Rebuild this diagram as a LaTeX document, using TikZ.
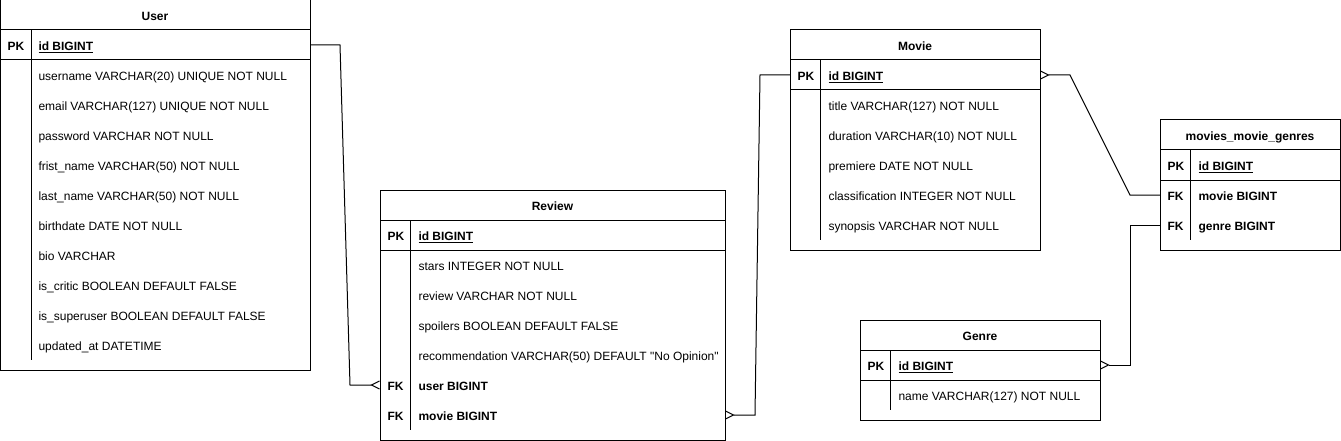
\documentclass[tikz,border=0pt]{standalone}
\usepackage{fontspec}
\setmainfont{Liberation Sans}
\usetikzlibrary{arrows.meta,positioning}

\newcommand{\erfont}{\fontsize{12}{14}\selectfont}

\tikzset{
  table/.style={draw, rectangle, anchor=north west, inner sep=0pt, outer sep=0pt},
  title/.style={font=\erfont\bfseries, inner sep=0pt, text height=11pt, text depth=0pt},
  key/.style={anchor=west, font=\erfont\bfseries, inner sep=0pt, text height=11pt, text depth=0pt},
  field/.style={anchor=west, font=\erfont, inner sep=0pt, text height=11pt, text depth=0pt},
  many/.style={-{Straight Barb[reversed,length=8pt,width=8pt]}}
}

\begin{document}
\begin{tikzpicture}[x=1pt, y=-1pt, line width=1pt]
    \useasboundingbox (0,0) rectangle (1341,441);

    % Nodes
    % User
    \node [table, minimum width=310pt, minimum height=370pt] (user) at (0,0) {};
    \node [title] (user-title) at (155,15) {User};
    \node [key] (user-pk) at (7,45) {PK};
    \node [key] (user-id) at (38,45) {\underline{id BIGINT}};
    \foreach \f [count=\i] in {username VARCHAR(20) UNIQUE NOT NULL, email VARCHAR(127) UNIQUE NOT NULL,
        password VARCHAR NOT NULL, frist\_name VARCHAR(50) NOT NULL, last\_name VARCHAR(50) NOT NULL,
        birthdate DATE NOT NULL, bio VARCHAR, is\_critic BOOLEAN DEFAULT FALSE,
        is\_superuser BOOLEAN DEFAULT FALSE, updated\_at DATETIME}
        \node [field] (user-f\i) at (38,45+30*\i) {\f};
    \draw (0,30) -- (310,30) (0,60) -- (310,60) (31,30) -- (31,360);

    % Review
    \node [table, minimum width=345pt, minimum height=250pt] (review) at (380,190) {};
    \node [title] (review-title) at (552.5,205) {Review};
    \node [key] (review-pk) at (387,235) {PK};
    \node [key] (review-id) at (418,235) {\underline{id BIGINT}};
    \foreach \f [count=\i] in {stars INTEGER NOT NULL, review VARCHAR NOT NULL, spoilers BOOLEAN DEFAULT FALSE,
        recommendation VARCHAR(50) DEFAULT \textquotedbl No Opinion\textquotedbl}
        \node [field] (review-f\i) at (418,235+30*\i) {\f};
    \node [key] (review-fk1) at (387,385) {FK};
    \node [key] (review-user) at (418,385) {user BIGINT};
    \node [key] (review-fk2) at (387,415) {FK};
    \node [key] (review-movie) at (418,415) {movie BIGINT};
    \draw (380,220) -- (725,220) (380,250) -- (725,250) (410,220) -- (410,430);

    % Movie
    \node [table, minimum width=250pt, minimum height=220pt] (movie) at (790,30) {};
    \node [title] (movie-title) at (915,45) {Movie};
    \node [key] (movie-pk) at (797,75) {PK};
    \node [key] (movie-id) at (828,75) {\underline{id BIGINT}};
    \foreach \f [count=\i] in {title VARCHAR(127) NOT NULL, duration VARCHAR(10) NOT NULL, premiere DATE NOT NULL,
        classification INTEGER NOT NULL, synopsis VARCHAR NOT NULL}
        \node [field] (movie-f\i) at (828,75+30*\i) {\f};
    \draw (790,60) -- (1040,60) (790,90) -- (1040,90) (820,60) -- (820,240);

    % movies_movie_genres
    \node [table, minimum width=180pt, minimum height=130pt] (mmg) at (1160,120) {};
    \node [title] (mmg-title) at (1250,135) {movies\_movie\_genres};
    \node [key] (mmg-pk) at (1167,165) {PK};
    \node [key] (mmg-id) at (1198,165) {\underline{id BIGINT}};
    \node [key] (mmg-fk1) at (1167,195) {FK};
    \node [key] (mmg-movie) at (1198,195) {movie BIGINT};
    \node [key] (mmg-fk2) at (1167,225) {FK};
    \node [key] (mmg-genre) at (1198,225) {genre BIGINT};
    \draw (1160,150) -- (1340,150) (1160,180) -- (1340,180) (1190,150) -- (1190,240);

    % Genre
    \node [table, minimum width=240pt, minimum height=100pt] (genre) at (860,320) {};
    \node [title] (genre-title) at (980,335) {Genre};
    \node [key] (genre-pk) at (867,365) {PK};
    \node [key] (genre-id) at (898,365) {\underline{id BIGINT}};
    \node [field] (genre-f1) at (898,395) {name VARCHAR(127) NOT NULL};
    \draw (860,350) -- (1100,350) (860,380) -- (1100,380) (890,350) -- (890,410);

    % Arrows
    \draw [many] (user.east |- user-id) -- ++(30,0) -- ([xshift=-30pt]review.west |- review-user) -- (review.west |- review-user);
    \draw [many] (movie.west |- movie-id) -- ++(-30,0) -- ([xshift=30pt]review.east |- review-movie) -- (review.east |- review-movie);
    \draw [many] (mmg.west |- mmg-movie) -- ++(-30,0) -- ([xshift=30pt]movie.east |- movie-id) -- (movie.east |- movie-id);
    \draw [many] (mmg.west |- mmg-genre) -- ++(-30,0) -- ([xshift=30pt]genre.east |- genre-id) -- (genre.east |- genre-id);

\end{tikzpicture}
\end{document}
